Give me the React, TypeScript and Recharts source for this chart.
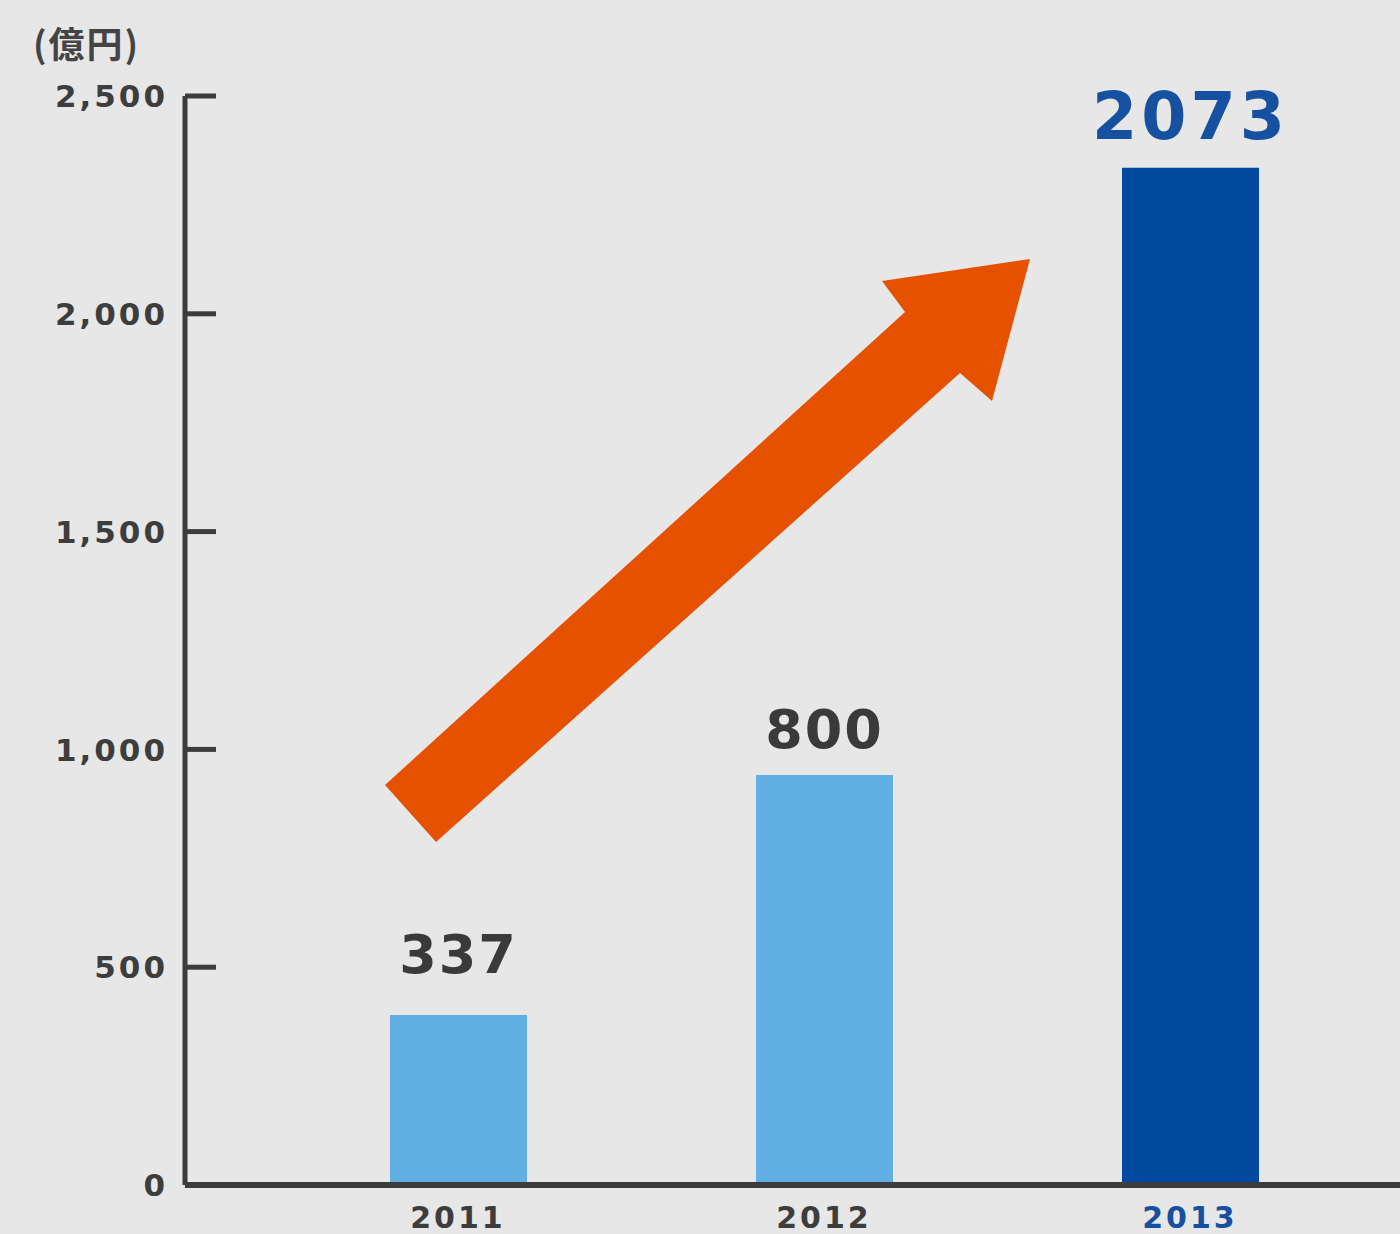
import React from 'react';
import { BarChart, Bar, XAxis, YAxis, Cell, LabelList, Customized } from 'recharts';

const years = ['2011', '2012', '2013'];
// bar heights as drawn against the axis scale
const barHeights = [390, 941, 2335];
// values printed above the bars
const valueLabels = ['337', '800', '2073'];
const yTicks = [0, 500, 1000, 1500, 2000, 2500];

const data = years.map((year, i) => ({ year, value: barHeights[i], label: valueLabels[i] }));

const barColors = ['#62afe3', '#62afe3', '#0249a0'];
const labelColors = ['#3a3a3a', '#3a3a3a', '#1650a0'];
const labelSizes = [54, 54, 65];
const labelLift = [42, 27, 29];
const AXIS = '#3c3c3c';
const FONT = '"DejaVu Sans", sans-serif';

const YTick = (props: any) => {
  const { x, y, payload } = props;
  return (
    <g>
      <line x1={x} x2={x + 31} y1={y} y2={y} stroke={AXIS} strokeWidth={5} />
      <text x={x - 17} y={y} dy="0.36em" textAnchor="end" fontFamily={FONT} fontWeight={700}
        fontSize={31} letterSpacing={3} fill="#3d3d3d">
        {Number(payload.value).toLocaleString('en-US')}
      </text>
    </g>
  );
};

const XTick = (props: any) => {
  const { x, y, payload, index } = props;
  return (
    <text x={x} y={y + 43} textAnchor="middle" fontFamily={FONT} fontWeight={700}
      fontSize={30} letterSpacing={3} fill={index === 2 ? '#1650a0' : '#3d3d3d'}>
      {payload.value}
    </text>
  );
};

const ValueLabel = (props: any) => {
  const { x, y, width, index } = props;
  return (
    <text x={x + width / 2} y={y - labelLift[index]} textAnchor="middle" fontFamily={FONT}
      fontWeight={700} fontSize={labelSizes[index]} letterSpacing={index === 2 ? 4 : 2}
      fill={labelColors[index]}>
      {valueLabels[index]}
    </text>
  );
};

const Decorations = () => (
  <g>
    <text x={33} y={58} fontFamily='"Noto Sans CJK JP", sans-serif' fontWeight={700} fontSize={36}
      letterSpacing={2} fill="#444">
      (億円)
    </text>
    <polygon
      points="385,785 905,312 882,281 1030,259 992,401 960,373 436,842"
      fill="#e65100"
    />
  </g>
);

export default function App() {
  return (
    <div style={{ position: 'absolute', left: 0, top: 0, width: 1400, height: 1234, background: '#e7e7e7' }}>
      <BarChart width={1400} height={1234} data={data} margin={{ top: 96, right: 0, bottom: 0, left: 0 }}>
        <XAxis
          dataKey="year"
          height={49}
          padding={{ left: 90, right: 27 }}
          axisLine={{ stroke: AXIS, strokeWidth: 6 }}
          tickLine={false}
          tickSize={0}
          tickMargin={0}
          tick={<XTick />}
          interval={0}
        />
        <YAxis
          width={185}
          domain={[0, 2500]}
          ticks={yTicks}
          interval={0}
          axisLine={{ stroke: AXIS, strokeWidth: 5 }}
          tickLine={false}
          tickSize={0}
          tickMargin={0}
          tick={<YTick />}
        />
        <Bar dataKey="value" barSize={137} isAnimationActive={false}>
          {data.map((d, i) => (
            <Cell key={d.year} fill={barColors[i]} />
          ))}
          <LabelList dataKey="label" content={<ValueLabel />} />
        </Bar>
        <Customized component={<Decorations />} />
      </BarChart>
    </div>
  );
}
